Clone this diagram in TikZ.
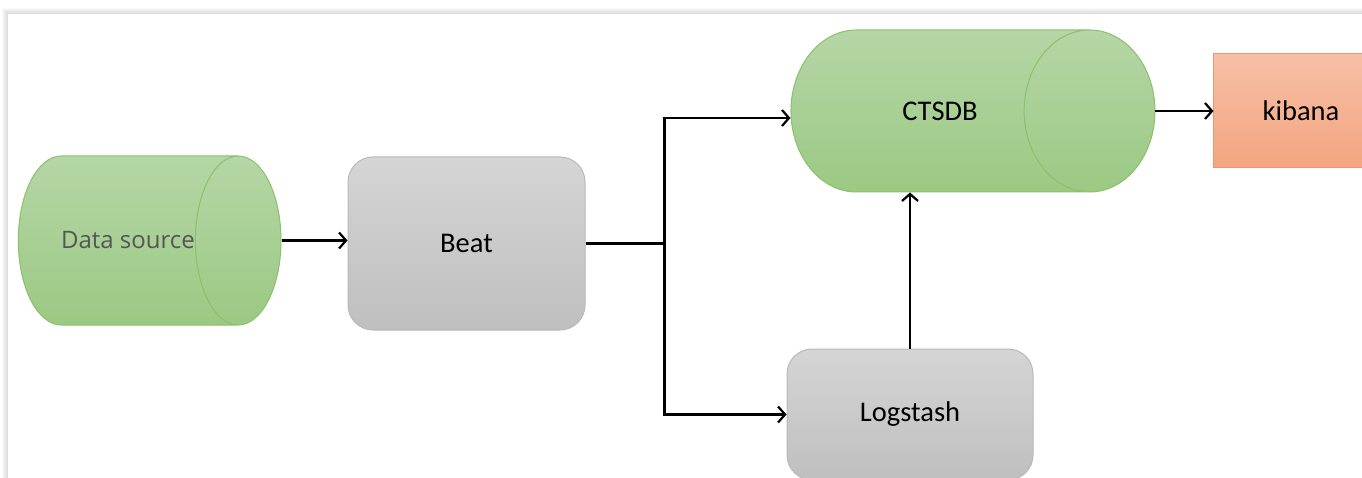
\documentclass[tikz,border=0pt]{standalone}
\usepackage{fontspec}
\setmainfont{Carlito}
\newfontfamily\srcfont{Open Sans}
\usetikzlibrary{shapes.geometric, arrows.meta, positioning, calc}
\definecolor{dbtop}{RGB}{181,214,166}
\definecolor{dbbot}{RGB}{155,201,131}
\definecolor{dbline}{RGB}{140,192,108}
\definecolor{boxtop}{RGB}{213,213,213}
\definecolor{boxbot}{RGB}{191,191,191}
\definecolor{boxline}{RGB}{185,185,185}
\definecolor{kibtop}{RGB}{246,192,166}
\definecolor{kibbot}{RGB}{243,165,128}
\definecolor{kibline}{RGB}{240,150,108}
\definecolor{srcgray}{RGB}{85,85,85}

\begin{document}
\begin{tikzpicture}[x=1pt,y=1pt,
    label font/.style={font=\fontsize{28.5}{34}\selectfont},
    db/.style={cylinder, draw=dbline, line width=1pt, top color=dbtop, bottom color=dbbot, inner sep=0pt, label font},
    proc/.style={rectangle, rounded corners=25pt, draw=boxline, line width=1pt, top color=boxtop, bottom color=boxbot, label font},
    flow/.style={-{Straight Barb[length=7pt,width=16pt,line width=2.2pt]}, line width=2.2pt}]
    \useasboundingbox (0,0) rectangle (1362,477);
    % page with a soft shadow
    \foreach \i in {1,...,6}
      \fill[black,opacity=0.025] (8-\i,-20) rectangle (1400,463+\i);
    \fill[white] (8,-20) rectangle (1400,463);

    \node[db, aspect=4.93, minimum width=169pt, minimum height=262pt, text=srcgray] (src) at (128,236.5) {\srcfont\fontsize{24}{30}\selectfont Data source};
    \node[proc, minimum width=237pt, minimum height=173pt, right=66pt of src.east, yshift=-3pt] (beat) {Beat};
    \node[db, aspect=7, minimum width=162pt, minimum height=364pt] (ctsdb) at (940,366) {CTSDB};
    \node[proc, minimum width=246pt, minimum height=131pt] (logstash) at (910,62.5) {Logstash};
    \node[rectangle, draw=kibline, line width=1pt, top color=kibtop, bottom color=kibbot, label font, minimum width=174pt, minimum height=114pt, right=58pt of ctsdb.east] (kibana) {kibana};

    \coordinate (split) at ($(beat.east)+(79,0)$);
    \draw[flow] (src.east) -- (src.east -| beat.west);
    \draw[line width=2.2pt] (beat.east) -- (split);
    \draw[flow] (split) |- ([yshift=-7pt]ctsdb.west);
    \draw[flow] (split) |- (logstash);
    \draw[flow] (logstash.north) -- (logstash.north |- ctsdb.south);
    \draw[flow] (ctsdb.east) -- (kibana.west);
\end{tikzpicture}
\end{document}
